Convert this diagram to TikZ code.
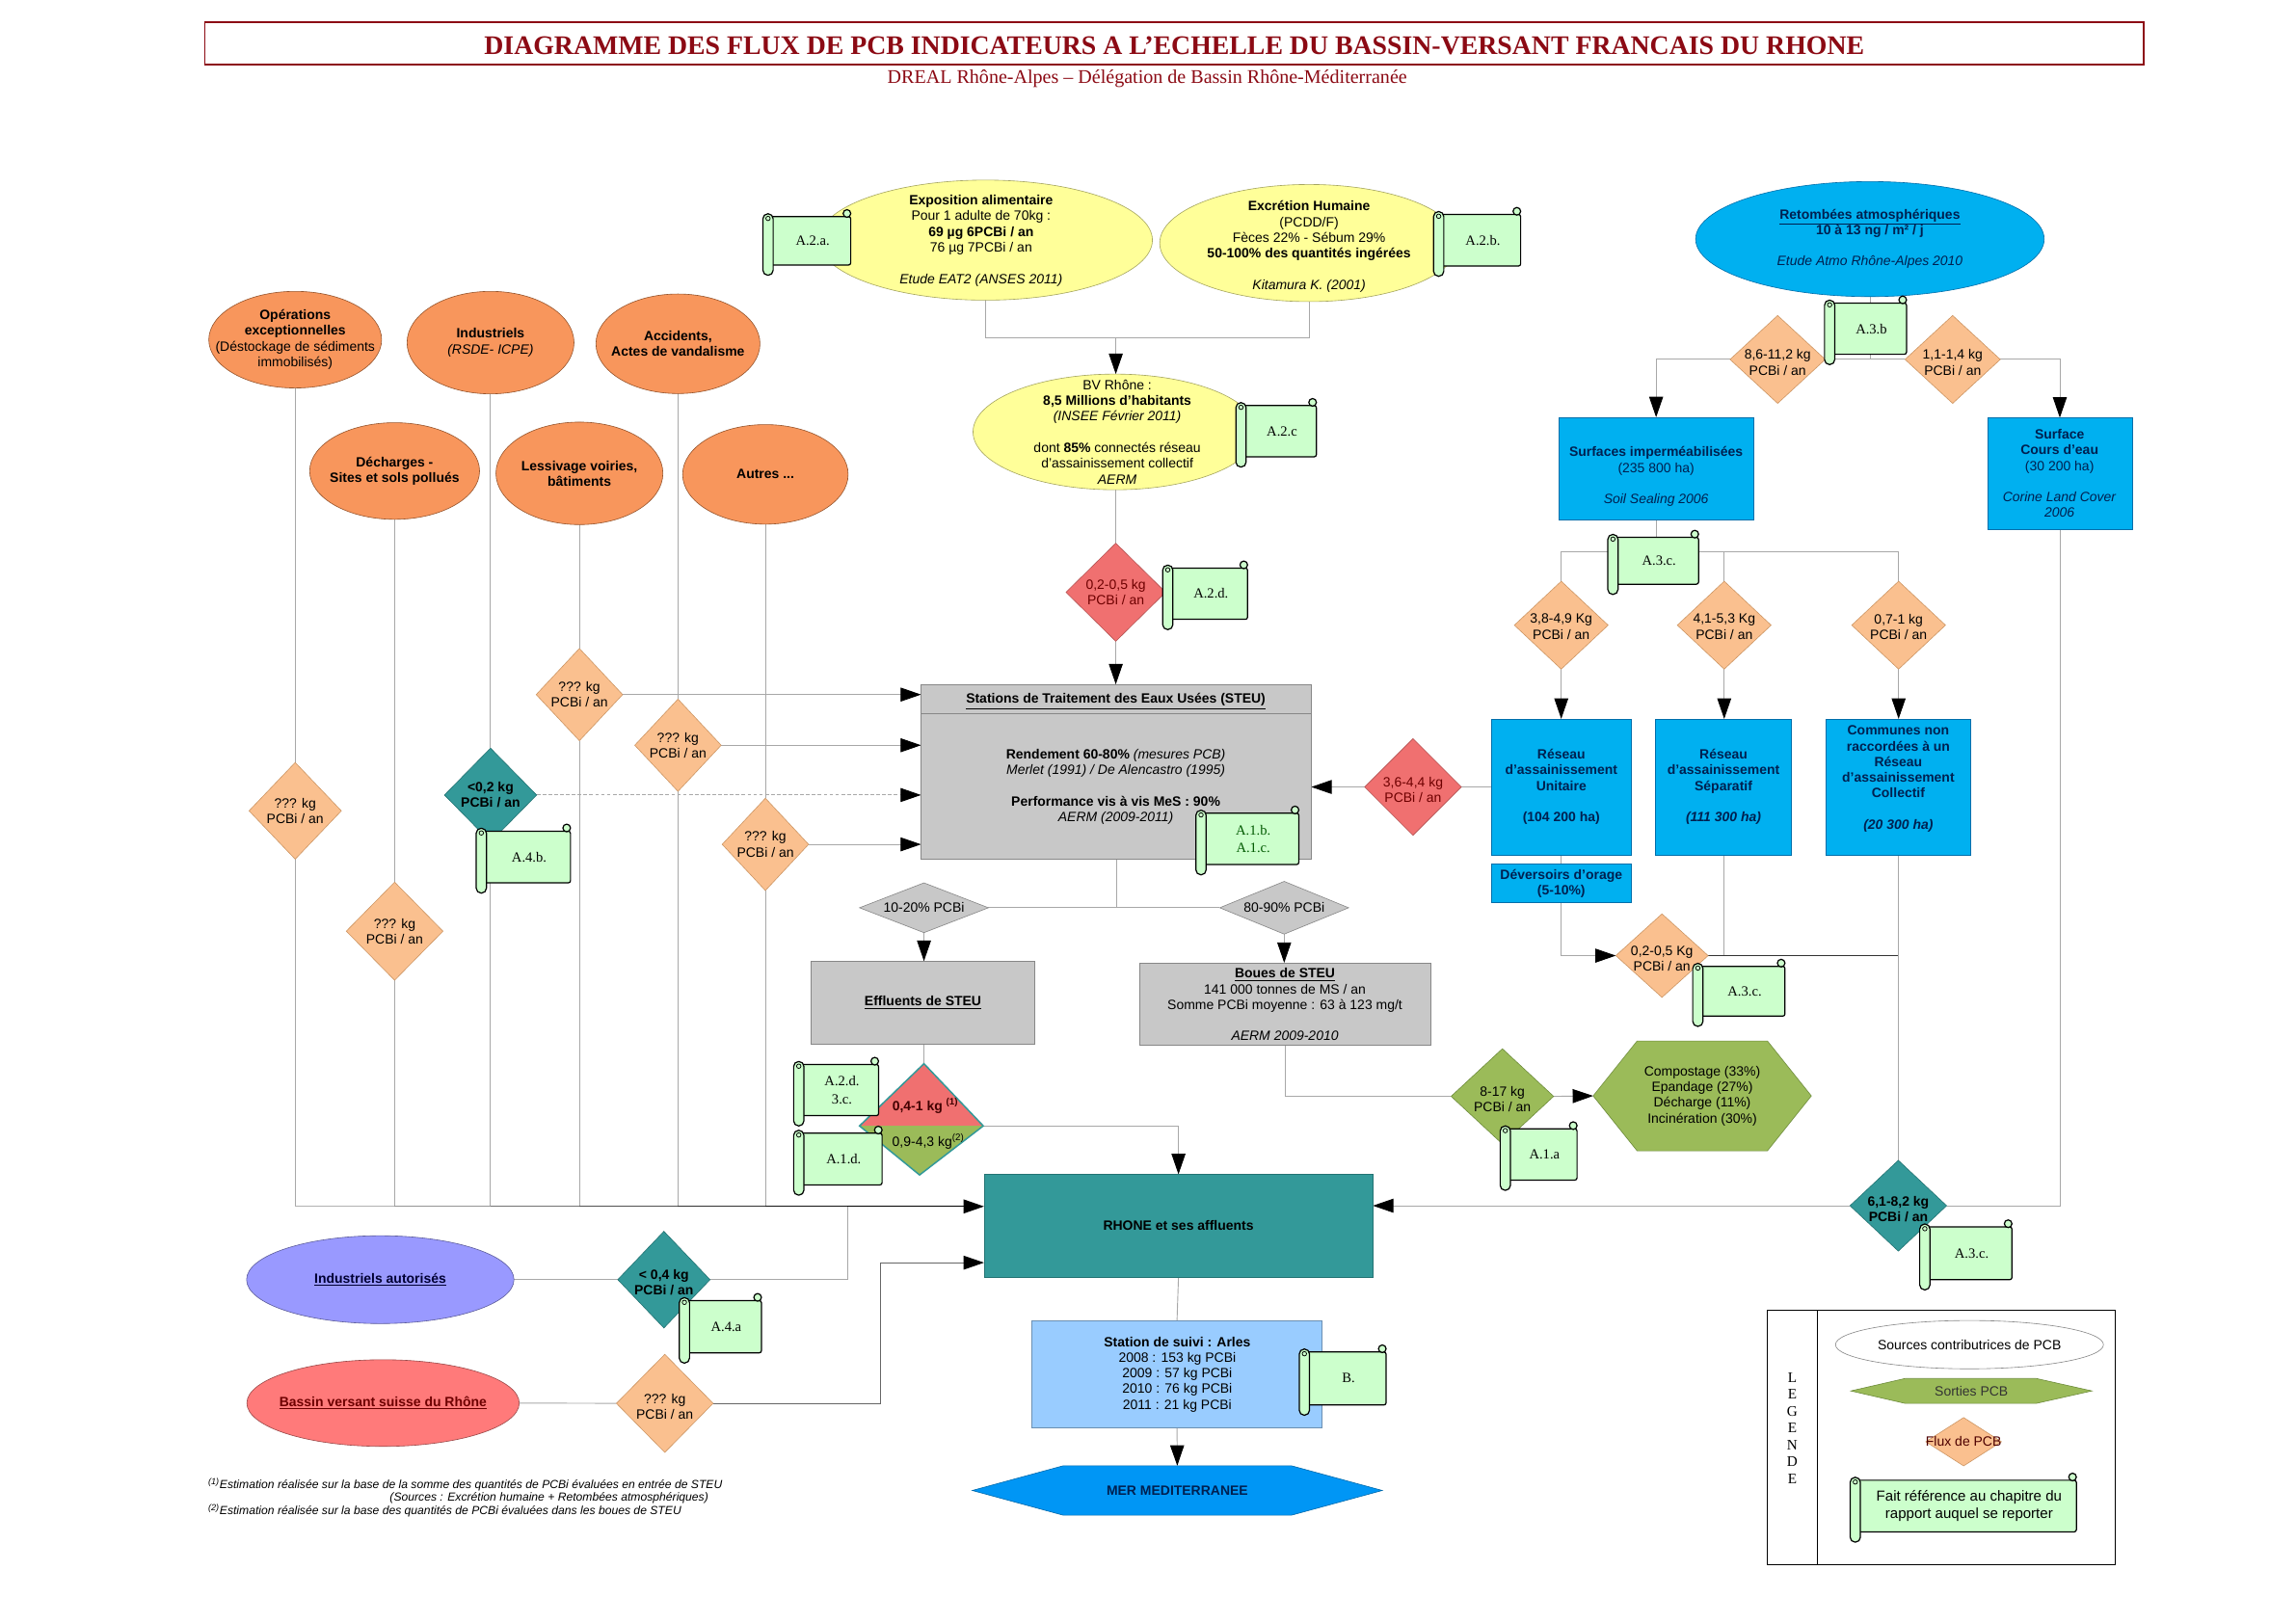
\documentclass[tikz,border=0pt]{standalone}
\usepackage{fontspec}
\setmainfont{Liberation Sans}
\newfontfamily\tnr{Liberation Serif}
\usetikzlibrary{shapes.geometric,arrows.meta,calc}
\pgfdeclarelayer{bg}
\pgfdeclarelayer{shplayer}
\pgfsetlayers{bg,shplayer,main}
\definecolor{orgF}{RGB}{248,150,92}
\definecolor{orgD}{RGB}{150,85,45}
\definecolor{peach}{RGB}{250,192,143}
\definecolor{peachD}{RGB}{205,150,100}
\definecolor{redF}{RGB}{240,112,112}
\definecolor{redT}{RGB}{110,0,0}
\definecolor{tealF}{RGB}{51,153,153}
\definecolor{tealD}{RGB}{35,115,115}
\definecolor{yelF}{RGB}{255,255,153}
\definecolor{yelD}{RGB}{165,165,95}
\definecolor{bluF}{RGB}{0,176,240}
\definecolor{bluD}{RGB}{0,110,170}
\definecolor{bluT}{RGB}{0,32,80}
\definecolor{grayF}{RGB}{200,200,200}
\definecolor{grayD}{RGB}{135,135,135}
\definecolor{grnF}{RGB}{155,187,89}
\definecolor{grnD}{RGB}{110,140,60}
\definecolor{lavF}{RGB}{153,153,255}
\definecolor{pinkF}{RGB}{255,122,122}
\definecolor{staF}{RGB}{153,204,255}
\definecolor{merF}{RGB}{0,150,245}
\definecolor{scrF}{RGB}{204,255,204}
\definecolor{titR}{RGB}{140,10,20}
\definecolor{lineG}{RGB}{168,168,168}
\tikzset{
 nd/.style={inner sep=0pt, outer sep=0pt, line width=0.4pt},
 txt/.style={inner sep=0pt, outer sep=0pt, align=center, font={\fontsize{9.2}{10.7}\selectfont}},
 txtb/.style={inner sep=0pt, outer sep=0pt, align=center, font={\fontsize{9.2}{10.7}\selectfont\bfseries}},
 src/.style={nd, ellipse, draw=orgD, fill=orgF},
 yel/.style={nd, ellipse, draw=yelD, fill=yelF},
 flux/.style={nd, diamond, draw=peachD, fill=peach},
 fluxr/.style={nd, diamond, draw=redF!75!black, fill=redF},
 fluxt/.style={nd, diamond, draw=tealD, fill=tealF},
 fluxg/.style={nd, diamond, draw=grayD, fill=grayF},
 fluxv/.style={nd, diamond, draw=grnD, fill=grnF},
 bbox/.style={nd, rectangle, draw=bluD, fill=bluF},
 gbox/.style={nd, rectangle, draw=grayD, fill=grayF, align=center, font={\fontsize{9.2}{10.7}\selectfont}},
 conn/.style={draw=lineG, line width=0.6pt},
 arr/.style={conn, -{Triangle[length=14pt,width=9.5pt,color=black]}},
 scrl/.style={draw=black, line width=0.8pt, fill=scrF},
 scrtxt/.style={inner sep=0pt, align=center, font={\tnr\fontsize{9.6}{12}\selectfont}},
 scrtxtsans/.style={inner sep=0pt, align=center, font={\fontsize{9.9}{12.1}\selectfont}},
}
\newcommand\drawscroll[7][scrtxt]{%
  \pgfmathsetmacro\sxa{#3}%
  \pgfmathsetmacro\sya{#4}%
  \pgfmathsetmacro\sxb{#5}%
  \pgfmathsetmacro\syb{#6}%
  \draw[scrl, rounded corners=1.5pt] (\sxa+5,\sya+5) rectangle (\sxb,\syb-7);
  \draw[scrl] (\sxb-2.6,\sya+2.8) circle (2.6pt);
  \draw[scrl, rounded corners=3.4pt] (\sxa,\sya+3) rectangle (\sxa+7,\syb);
  \draw[line width=0.5pt] (\sxa+3.5,\sya+6.2) circle (1.5pt);
  \node[#1] (#2) at ({(\sxa+\sxb+8)/2},{(\sya+\syb-2)/2}) {#7};
}
\begin{document}
\begin{tikzpicture}[x=1pt,y=-1pt]
\begin{pgfonlayer}{bg}
\fill[white] (0,0) rectangle (1568,1108.5);
\end{pgfonlayer}
\useasboundingbox (0,0) rectangle (1568,1108.5);

% ---------- title ----------
\draw[titR, line width=1pt] (140,15) rectangle (1464,44);
\node[inner sep=0pt, text=titR, font={\tnr\bfseries\fontsize{18.3}{20}\selectfont}] (title) at (802,31)
  {DIAGRAMME DES FLUX DE PCB INDICATEURS A L’ECHELLE DU BASSIN-VERSANT FRANCAIS DU RHONE};
\node[inner sep=0pt, text=titR, font={\tnr\fontsize{13.2}{15}\selectfont}] (subtitle) at (783.5,54)
  {DREAL Rhône-Alpes – Délégation de Bassin Rhône-Méditerranée};

% ---------- sources (orange) ----------
\node[src, minimum width=118, minimum height=66] (ops) at (201.6,232) {};
\node[txt] (opsT) at (ops) {\textbf{Opérations}\\\textbf{exceptionnelles}\\(Déstockage de sédiments\\immobilisés)};
\node[src, minimum width=114, minimum height=70] (ind) at (335,234) {};
\node[txt] (indT) at (ind) {\textbf{Industriels}\\\textit{(RSDE- ICPE)}};
\node[src, minimum width=112, minimum height=68] (acc) at (463,234.8) {};
\node[txtb] (accT) at (acc) {Accidents,\\Actes de vandalisme};
\node[src, minimum width=116, minimum height=66] (dech) at (269.5,321.7) {};
\node[txtb] (dechT) at (dech) {Décharges -\\Sites et sols pollués};
\node[src, minimum width=114, minimum height=70] (less) at (395.7,323.3) {};
\node[txtb] (lessT) at (less) {Lessivage voiries,\\bâtiments};
\node[src, minimum width=113, minimum height=68] (aut) at (522.7,324) {};
\node[txtb] (autT) at (aut) {Autres ...};

% ---------- flux diamonds on the left ----------
\node[flux, minimum width=63, minimum height=66] (dq1) at (201.6,553.8) {};
\node[txt] (dq1T) at (dq1) {??? kg\\PCBi / an};
\node[flux, minimum width=66, minimum height=67] (dq2) at (269.5,636) {};
\node[txt] (dq2T) at (dq2) {??? kg\\PCBi / an};
\node[fluxt, minimum width=63, minimum height=64] (dt02) at (335,543) {};
\node[txtb] (dt02T) at (dt02) {<0,2 kg\\PCBi / an};
\node[flux, minimum width=59, minimum height=63] (dq3) at (395.7,474.4) {};
\node[txt] (dq3T) at (dq3) {??? kg\\PCBi / an};
\node[flux, minimum width=59, minimum height=63] (dq4) at (463,509) {};
\node[txt] (dq4T) at (dq4) {??? kg\\PCBi / an};
\node[flux, minimum width=59, minimum height=63] (dq5) at (522.7,576.7) {};
\node[txt] (dq5T) at (dq5) {??? kg\\PCBi / an};

% ---------- human exposure (yellow) ----------
\node[yel, minimum width=228, minimum height=82] (expo) at (673,164) {};
\node[txt] (expoT) at (670,164.4) {\textbf{Exposition alimentaire}\\Pour 1 adulte de 70kg :\\\textbf{69 µg 6PCBi / an}\\76 µg 7PCBi / an\\[10.7pt]\textit{Etude EAT2 (ANSES 2011)}};
\node[yel, minimum width=204, minimum height=80] (excr) at (894,166) {};
\node[txt] (excrT) at (894,168.4) {\textbf{Excrétion Humaine}\\(PCDD/F)\\Fèces 22\% - Sébum 29\%\\\textbf{50-100\% des quantités ingérées}\\[10.7pt]\textit{Kitamura K. (2001)}};
\node[yel, minimum width=194, minimum height=79] (bv) at (761.5,295) {};
\node[txt] (bvT) at (763,295) {BV Rhône :\\\textbf{8,5 Millions d'habitants}\\\textit{(INSEE Février 2011)}\\[10.7pt]dont \textbf{85\%} connectés réseau\\d'assainissement collectif\\\textit{AERM}};
\node[fluxr, minimum width=68, minimum height=67] (d0205) at (762,404.5) {};
\node[txt, text=redT] (d0205T) at (d0205) {0,2-0,5 kg\\PCBi / an};

% ---------- STEU ----------
\node[gbox, minimum width=266.5, minimum height=119.2] (steu) at (762.25,527) {};
\draw[grayD, line width=0.4pt] ([yshift=-20pt]steu.north west) -- ([yshift=-20pt]steu.north east);
\node[txtb] (steuH) at (762,479) {\underline{Stations de Traitement des Eaux Usées (STEU)}};
\node[txt] (steuB) at (762,537.5) {\textbf{Rendement 60-80\%} \textit{(mesures PCB)}\\\textit{Merlet (1991) / De Alencastro (1995)}\\[10.7pt]\textbf{Performance vis à vis MeS : 90\%}\\\textit{AERM (2009-2011)}};

\node[fluxg, minimum width=88, minimum height=34] (d1020) at (631,620) {};
\node[txt] (d1020T) at (d1020) {10-20\% PCBi};
\node[fluxg, minimum width=88, minimum height=36] (d8090) at (877,620) {};
\node[txt] (d8090T) at (d8090) {80-90\% PCBi};
\node[gbox, minimum width=152.6, minimum height=56.7] (eff) at (630.3,684.8) {\textbf{\underline{Effluents de STEU}}};
\node[gbox, minimum width=199, minimum height=56.1] (boues) at (877.5,685.7) {};
\node[txt] (bouesT) at (877.5,686.2) {\textbf{\underline{Boues de STEU}}\\141 000 tonnes de MS / an\\Somme PCBi moyenne : 63 à 123 mg/t\\[10.7pt]\textit{AERM 2009-2010}};

% split diamond 0,4-1 kg
\coordinate (qtop) at (631,726.5);
\coordinate (qright) at (671.5,769);
\coordinate (qbot) at (628,802.5);
\coordinate (qleft) at (587,769);
\begin{pgfonlayer}{shplayer}
\fill[redF] (qleft) -- (qtop) -- (qright) -- cycle;
\fill[grnF] (qleft) -- (qright) -- (qbot) -- cycle;
\end{pgfonlayer}
\draw[tealF, line width=1pt, line join=miter] (qleft) -- (qtop) -- (qright) -- (qbot) -- cycle;
\node[txtb, text=redT!60!black] (q1T) at (632,755.3) {0,4-1 kg \textsuperscript{(1)}};
\node[txt] (q2T) at (634,779.5) {0,9-4,3 kg\textsuperscript{(2)}};

\node[fluxv, minimum width=70, minimum height=65] (d817) at (1026,748.8) {};
\node[txt] (d817T) at ([yshift=-2pt]d817.center) {8-17 kg\\PCBi / an};
\node[txt, minimum width=149, minimum height=75] (compost) at (1162.5,748.5) {Compostage (33\%)\\Epandage (27\%)\\Décharge (11\%)\\Incinération (30\%)};
\begin{pgfonlayer}{shplayer}
\draw[draw=grnD, fill=grnF, line width=0.4pt] (compost.west) -- ([xshift=30pt]compost.north west) -- ([xshift=-30pt]compost.north east) -- (compost.east) -- ([xshift=-30pt]compost.south east) -- ([xshift=30pt]compost.south west) -- cycle;
\end{pgfonlayer}

% ---------- atmospheric ----------
\node[nd, ellipse, draw=bluD, fill=bluF, minimum width=238, minimum height=78.6] (ret) at (1277,163.3) {};
\node[txt, text=bluT] (retT) at (1277,163.2) {\textbf{\underline{Retombées atmosphériques}}\\\textbf{10 à 13 ng / m² / j}\\[10.7pt]\textit{Etude Atmo Rhône-Alpes 2010}};
\node[flux, minimum width=65, minimum height=60] (d86) at (1214,245.5) {};
\node[txt] (d86T) at ([yshift=-2pt]d86.center) {8,6-11,2 kg\\PCBi / an};
\node[flux, minimum width=65, minimum height=60] (d11) at (1333.5,245.5) {};
\node[txt] (d11T) at ([yshift=-2pt]d11.center) {1,1-1,4 kg\\PCBi / an};
\node[bbox, minimum width=133, minimum height=70] (simp) at (1131,320) {};
\node[txt, text=bluT] (simpT) at (1131,325.6) {\textbf{Surfaces imperméabilisées}\\(235 800 ha)\\[10.7pt]\textit{Soil Sealing 2006}};
\node[bbox, minimum width=98.5, minimum height=76.4] (sce) at (1406.7,323.5) {};
\node[txt, text=bluT] (sceT) at (1406.5,323.4) {\textbf{Surface}\\\textbf{Cours d'eau}\\(30 200 ha)\\[10.7pt]\textit{Corine Land Cover}\\\textit{2006}};

\node[flux, minimum width=64, minimum height=60] (d38) at (1066.2,427) {};
\node[txt] (d38T) at ([yshift=-1pt]d38.center) {3,8-4,9 Kg\\PCBi / an};
\node[flux, minimum width=64, minimum height=60] (d41) at (1177.5,427) {};
\node[txt] (d41T) at ([yshift=-1pt]d41.center) {4,1-5,3 Kg\\PCBi / an};
\node[flux, minimum width=64, minimum height=60] (d07) at (1296.6,427) {};
\node[txt] (d07T) at ([yshift=-1pt]d07.center) {0,7-1 kg\\PCBi / an};

\node[bbox, minimum width=95.5, minimum height=93] (unit) at (1066.25,537.5) {};
\node[txtb, text=bluT] (unitT) at (1066.25,537.5) {Réseau\\d'assainissement\\Unitaire\\[10.7pt](104 200 ha)};
\node[bbox, minimum width=92.8, minimum height=93] (sep) at (1177,537.5) {};
\node[txtb, text=bluT] (sepT) at (1177,537.5) {Réseau\\d'assainissement\\Séparatif\\[10.7pt]\textit{(111 300 ha)}};
\node[bbox, minimum width=99.2, minimum height=93] (comm) at (1296.4,537.5) {};
\node[txtb, text=bluT] (commT) at (1296.4,532) {Communes non\\raccordées à un\\Réseau\\d'assainissement\\Collectif\\[10.7pt]\textit{(20 300 ha)}};
\node[bbox, minimum width=95.5, minimum height=26.6] (dev) at (1066.25,603.3) {};
\node[txtb, text=bluT] (devT) at (1066.25,603.5) {Déversoirs d'orage\\(5-10\%)};

\node[fluxr, minimum width=66, minimum height=66] (d36) at (965,537.5) {};
\node[txt, text=redT] (d36T) at ([yshift=-2pt]d36.center) {3,6-4,4 kg\\PCBi / an};
\node[flux, minimum width=63, minimum height=57] (d0205b) at (1135,652.7) {};
\node[txt] (d0205bT) at ([yshift=-2pt]d0205b.center) {0,2-0,5 Kg\\PCBi / an};
\node[fluxt, minimum width=66, minimum height=62] (d61) at (1296.4,823.5) {};
\node[txtb] (d61T) at ([yshift=-2.5pt]d61.center) {6,1-8,2 kg\\PCBi / an};

% ---------- Rhone and outputs ----------
\node[nd, rectangle, draw=tealD, fill=tealF, minimum width=265.6, minimum height=70.3, font={\fontsize{9.2}{10.7}\selectfont\bfseries}] (rhone) at (804.8,837.2) {RHONE et ses affluents};
\node[nd, rectangle, draw=staF!70!black, fill=staF, minimum width=198.4, minimum height=73] (sta) at (803.8,938.5) {};
\node[txt] (staT) at (804,938.7) {\textbf{Station de suivi : Arles}\\2008 : 153 kg PCBi\\2009 : 57 kg PCBi\\2010 : 76 kg PCBi\\2011 : 21 kg PCBi};
\node[txtb, text=bluT, minimum width=280, minimum height=33.7] (mer) at (804,1018) {MER MEDITERRANEE};
\begin{pgfonlayer}{shplayer}
\draw[draw=merF!70!black, fill=merF, line width=0.4pt] (mer.west) -- ([xshift=62pt]mer.north west) -- ([xshift=-62pt]mer.north east) -- (mer.east) -- ([xshift=-62pt]mer.south east) -- ([xshift=62pt]mer.south west) -- cycle;
\end{pgfonlayer}

% ---------- bottom-left sources ----------
\node[nd, ellipse, draw=lavF!60!black, fill=lavF, minimum width=182.6, minimum height=60] (ia) at (259.7,874) {};
\node[txtb, text=black!80!blue] (iaT) at (ia) {\underline{Industriels autorisés}};
\node[fluxt, minimum width=63, minimum height=66] (dt04) at (453.4,874) {};
\node[txtb] (dt04T) at ([yshift=-2pt]dt04.center) {< 0,4 kg\\PCBi / an};
\node[nd, ellipse, draw=pinkF!60!black, fill=pinkF, minimum width=186, minimum height=59.2] (bs) at (261.6,958.3) {};
\node[txtb, text=redT] (bsT) at (bs) {\underline{Bassin versant suisse du Rhône}};
\node[flux, minimum width=66, minimum height=67] (dq6) at (454,958.5) {};
\node[txt] (dq6T) at ([yshift=-2pt]dq6.center) {??? kg\\PCBi / an};

% ---------- footnotes ----------
\node[anchor=west, inner sep=0pt, font={\fontsize{8}{9}\selectfont\itshape}] (fn1) at (142,1013.8) {\textsuperscript{(1)}Estimation réalisée sur la base de la somme des quantités de PCBi évaluées en entrée de STEU};
\node[inner sep=0pt, font={\fontsize{8}{9}\selectfont\itshape}] (fn2) at (375,1023) {(Sources : Excrétion humaine + Retombées atmosphériques)};
\node[anchor=west, inner sep=0pt, font={\fontsize{8}{9}\selectfont\itshape}] (fn3) at (142,1031.8) {\textsuperscript{(2)}Estimation réalisée sur la base des quantités de PCBi évaluées dans les boues de STEU};

% ---------- legend ----------
\draw[black, line width=0.8pt] (1207,894.7) rectangle (1444.4,1068.6);
\draw[black, line width=0.8pt] (1241,894.7) -- (1241,1068.6);
\node[inner sep=0pt, align=center, font={\tnr\fontsize{10}{11.5}\selectfont}] (legT) at (1224,975.5) {L\\E\\G\\E\\N\\D\\E};
\node[nd, ellipse, draw=grayD, fill=white, minimum width=183, minimum height=33] (legsrc) at (1345,918.4) {};
\node[txt] (legsrcT) at (legsrc) {Sources contributrices de PCB};
\node[txt, text=black!80, minimum width=164.6, minimum height=17] (leghex) at (1346.3,950) {Sorties PCB};
\begin{pgfonlayer}{shplayer}
\draw[draw=grnD, fill=grnF, line width=0.4pt] (leghex.west) -- ([xshift=37pt]leghex.north west) -- ([xshift=-38pt]leghex.north east) -- (leghex.east) -- ([xshift=-38pt]leghex.south east) -- ([xshift=37pt]leghex.south west) -- cycle;
\end{pgfonlayer}
\node[flux, minimum width=51.6, minimum height=33] (legflux) at (1341,984.7) {};
\node[txt, text=redT!70!black] (legfluxT) at (legflux) {Flux de PCB};

% ---------- scrolls ----------
\drawscroll{sA2a}{521}{143}{581}{188}{A.2.a.}
\drawscroll{sA2b}{979}{141.5}{1038.5}{188.7}{A.2.b.}
\drawscroll{sA2c}{844}{272}{899}{319}{A.2.c}
\drawscroll{sA2d}{794}{383}{852}{430}{A.2.d.}
\drawscroll{sA1b}{816.7}{550.4}{887}{597.5}{\color{green!35!black}A.1.b.\\\color{green!35!black}A.1.c.}
\drawscroll{sA3b}{1246}{202}{1302}{249}{A.3.b}
\drawscroll{sA3c1}{1098}{362}{1160}{406}{A.3.c.}
\drawscroll{sA3c2}{1156}{655}{1219}{701}{A.3.c.}
\drawscroll{sA3c3}{1311}{833}{1374}{881}{A.3.c.}
\drawscroll{sA4b}{325.2}{562.7}{389.6}{610}{A.4.b.}
\drawscroll{sA2d3c}{542}{722}{600}{769}{A.2.d.\\3.c.}
\drawscroll{sA1d}{542}{769}{602.4}{816.3}{A.1.d.}
\drawscroll{sA1a}{1024.5}{766}{1077}{813}{A.1.a}
\drawscroll{sA4a}{463.9}{883.3}{520}{931}{A.4.a}
\drawscroll{sB}{887.3}{918.4}{946.6}{966.6}{B.}
\drawscroll[scrtxtsans]{sLeg}{1263.5}{1006}{1418}{1053.3}{Fait référence au chapitre du\\rapport auquel se reporter}

% ---------- connectors ----------
\coordinate (jtop) at (762,230.5);
\coordinate (mainend) at ([yshift=13.2pt]rhone.west);
\coordinate (mj) at (578.7,824);
\coordinate (j601) at (601.3,862.4);
\coordinate (rl2) at ([yshift=-25.2pt]rhone.west);
\coordinate (jret) at (1277,245.5);
\coordinate (j3a) at (1066.2,376.8);
\coordinate (j3b) at (1296.6,376.8);
\begin{pgfonlayer}{bg}
\draw[conn] (expo.south) |- (jtop);
\draw[conn] (excr.south) |- (jtop);
\draw[arr] (jtop) -- (jtop |- bv.north);
\draw[conn] (d0205.north |- bv.south) -- (d0205.north);
\draw[arr] (d0205.south) -- (d0205.south |- steu.north);
% sources verticals
\draw[conn] (ops.south) -- (dq1.north);
\draw[conn] (dq1.south) -- (dq1.south |- mainend);
\draw[conn] (dech.south) -- (dq2.north);
\draw[conn] (dq2.south) -- (dq2.south |- mainend);
\draw[conn] (ind.south) -- (dt02.north);
\draw[conn] (dt02.south) -- (dt02.south |- mainend);
\draw[conn] (less.south) -- (dq3.north);
\draw[conn] (dq3.south) -- (dq3.south |- mainend);
\draw[conn] (acc.south) -- (dq4.north);
\draw[conn] (dq4.south) -- (dq4.south |- mainend);
\draw[conn] (aut.south) -- (dq5.north);
\draw[conn] (dq5.south) -- (dq5.south |- mainend);
% main collector line
\draw[line width=0.9pt, black!30] (dq1.south |- mainend) -- (dq2.south |- mainend);
\draw[line width=0.9pt, black!42] (dq2.south |- mainend) -- (dt02.south |- mainend);
\draw[line width=0.9pt, black!55] (dt02.south |- mainend) -- (dq3.south |- mainend);
\draw[line width=0.9pt, black!68] (dq3.south |- mainend) -- (dq4.south |- mainend);
\draw[line width=0.9pt, black!80] (dq4.south |- mainend) -- (dq5.south |- mainend);
\draw[line width=0.9pt, black!92] (dq5.south |- mainend) -- (mj);
\draw[line width=0.9pt, black, -{Triangle[length=14pt,width=9.5pt]}] (mj) -- (mainend);
% arrows into STEU
\draw[arr] (dq3.east) -- (dq3.east -| steu.west);
\draw[arr] (dq4.east) -- (dq4.east -| steu.west);
\draw[arr, dash pattern=on 2.5pt off 1.5pt] (dt02.east) -- (dt02.east -| steu.west);
\draw[arr] (dq5.east) -- (dq5.east -| steu.west);
% STEU outputs
\draw[conn] (steu.south) -- (steu.south |- d1020.east);
\draw[conn] (d1020.east) -- (d8090.west);
\draw[arr] (d1020.south) -- (d1020.south |- eff.north);
\draw[arr] (d8090.south) -- (d8090.south |- boues.north);
\draw[conn] (qtop |- eff.south) -- (qtop);
\draw[arr] (qright) -| (rhone.north);
\draw[conn] (boues.south) |- (d817.west);
\draw[arr] (d817.east) -- (compost.west);
% atmospheric
\draw[conn] (ret.south) -- (jret);
\draw[conn] (jret) -- (d86.east);
\draw[conn] (jret) -- (d11.west);
\draw[arr] (d86.west) -| (simp.north);
\draw[arr] (d11.east) -| (sce.north);
\draw[conn] (simp.south) -- (simp.south |- j3a);
\draw[conn] (j3a) -- (j3b);
\draw[conn] (j3a) -- (d38.north);
\draw[conn] (d41.north |- j3a) -- (d41.north);
\draw[conn] (j3b) -- (d07.north);
\draw[arr] (d38.south) -- (d38.south |- unit.north);
\draw[arr] (d41.south) -- (d41.south |- sep.north);
\draw[arr] (d07.south) -- (d07.south |- comm.north);
\draw[conn] (unit.west) -- (d36.east);
\draw[arr] (d36.west) -- (d36.west -| steu.east);
\draw[conn] (unit.south) -- (dev.north);
\draw[arr] (dev.south) |- (d0205b.west);
\draw[conn] (sep.south) -- (sep.south |- d0205b.east);
\draw[line width=0.6pt, black!80] (d0205b.east) -- (d0205b.east -| comm.south);
\draw[conn] (comm.south) -- (comm.south |- d61.north);
\draw[conn] (sce.south) |- (d61.east);
\draw[arr] (d61.west) -- (d61.west -| rhone.east);
% bottom-left
\draw[conn] (ia.east) -- (dt04.west);
\draw[conn] (dt04.east) -| (mj);
\draw[conn] (bs.east) -- (dq6.west);
\draw[arr, draw=black!60] (dq6.east) -| (j601) -- (rl2);
% Rhone to sea
\draw[conn] (rhone.south) -- (sta.north);
\draw[arr] (sta.south) -- (mer.north);
\end{pgfonlayer}
\end{tikzpicture}
\end{document}
